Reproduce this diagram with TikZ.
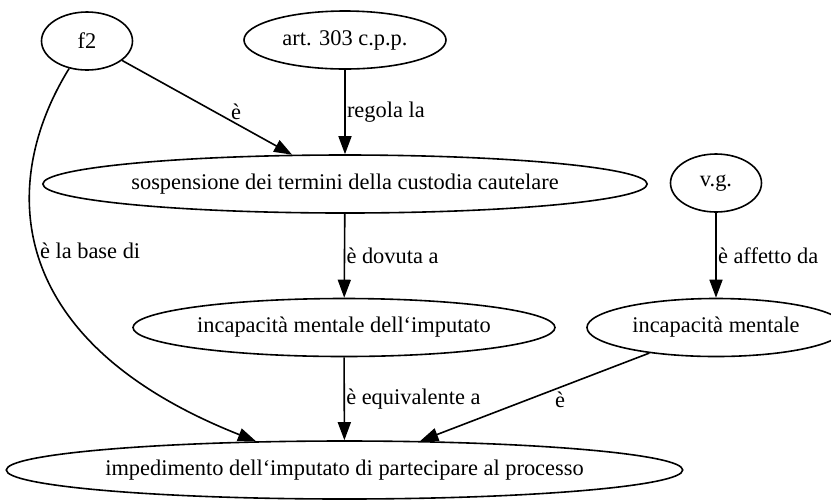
\documentclass[tikz,border=0pt]{standalone}
\usepackage{fontspec}
\setmainfont{Liberation Serif}
\usetikzlibrary{shapes.geometric,arrows.meta}
\begin{document}
\begin{tikzpicture}[x=0.5pt,y=-0.5pt,
    font=\fontsize{11.2}{13.4}\selectfont,
    concept/.style={draw,ellipse,inner sep=0pt,line width=0.8pt,
      minimum height=29pt,minimum width=#1},
    rel/.style={line width=0.8pt,-{Triangle[length=9pt,width=6.5pt]}},
    lab/.style={inner sep=0.6pt}]
  \useasboundingbox (0,0) rectangle (831,500);
  \fill[white] (0,0) rectangle (831,500);
  \draw
    (87,41) node[concept=45.5pt] (f2){f2}
    (345,40) node[concept=101pt] (art){art. 303 c.p.p.}
    (345,184) node[concept=298pt] (sosp){sospensione dei termini della custodia cautelare}
    (716,183) node[concept=45.5pt] (vg){v.g.}
    (344,327.5) node[concept=211pt] (incImp){incapacità mentale dell‘imputato}
    (716,327.5) node[concept=129pt] (incMent){incapacità mentale}
    (344.5,470) node[concept=332.5pt] (imped){impedimento dell‘imputato di partecipare al processo};
  \begin{scope}[rel]
    \draw (f2) to node[pos=0.67,above=1pt,lab] (lblE1){è} (sosp);
    \draw (art) to node[midway,right,lab] (lblReg){regola la} (sosp);
    \draw (f2.237) .. controls (0,180) and (0,340) ..
      node[pos=0.48,right,lab] (lblBase){è la base di} (imped.162);
    \draw (sosp) to node[midway,right,lab] (lblDov){è dovuta a} (incImp);
    \draw (incImp) to node[midway,right,lab] (lblEqu){è equivalente a} (imped);
    \draw (vg) to node[midway,right,lab] (lblAff){è affetto da} (incMent);
    \draw (incMent) to node[pos=0.39,below=1.5pt,lab] (lblE2){è} (imped);
  \end{scope}
\end{tikzpicture}
\end{document}
